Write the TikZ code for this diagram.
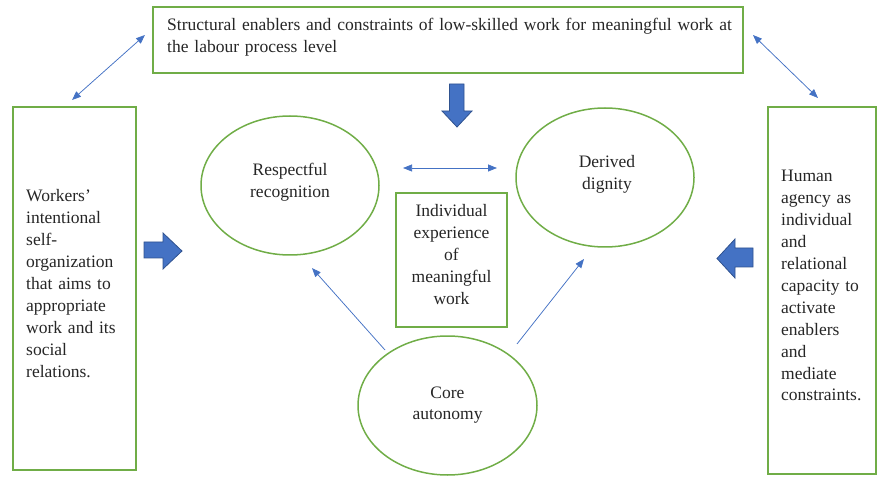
\documentclass[tikz,border=0pt]{standalone}
\usepackage{fontspec}
\setmainfont{Liberation Serif}
\usetikzlibrary{arrows.meta,shapes.geometric}
\definecolor{gr}{HTML}{70AD47}
\definecolor{bl}{HTML}{4472C4}
\definecolor{bld}{HTML}{2F528F}
\definecolor{tx}{HTML}{262626}
\begin{document}
\begin{tikzpicture}[x=1pt,y=-1pt,
  gbox/.style={draw=gr,line width=1.5pt,inner sep=0pt},
  gell/.style={draw=gr,line width=1.5pt,ellipse,inner sep=0pt},
  txt/.style={inner sep=0pt,text=tx,font=\fontsize{17.5}{21.9}\selectfont},
  conn/.style={draw=bl,line width=0.75pt,{Triangle[length=9pt,width=7pt]}-{Triangle[length=9pt,width=7pt]}},
  conn1/.style={draw=bl,line width=0.75pt,-{Triangle[length=9pt,width=7pt]}},
  blk/.style={fill=bl,draw=bld,line width=0.8pt,line join=miter}]
\useasboundingbox (0,0) rectangle (878,478);
% boxes
\node[gbox,minimum width=590pt,minimum height=66pt] (top) at (448,40) {};
\node[gbox,minimum width=123pt,minimum height=363pt] (left) at (74.5,288.5) {};
\node[gbox,minimum width=108pt,minimum height=367pt] (right) at (822,290.5) {};
\node[gbox,minimum width=111pt,minimum height=134pt] (mid) at (451.5,260) {};
\node[gell,minimum width=178pt,minimum height=139pt] (resp) at (290,185.5) {};
\node[gell,minimum width=178pt,minimum height=139pt] (der) at (605,177.5) {};
\node[gell,minimum width=179pt,minimum height=139pt] (core) at (447.5,405.5) {};
% texts
\node[txt,anchor=base west,text width=580pt,align=left] (toptxt) at (167,31)
  {Structural enablers and constraints of low-skilled work for meaningful work at\\the labour process level};
\node[txt,anchor=base west,text width=115pt,align=left] (lefttxt) at (26,202)
  {Workers’\\intentional\\self-\\organization\\that aims to\\appropriate\\work and its\\social\\relations.};
\node[txt,anchor=base west,text width=100pt,align=left] (righttxt) at (781,182)
  {Human\\agency as\\individual\\and\\relational\\capacity to\\activate\\enablers\\and\\mediate\\constraints.};
\node[txt,anchor=base,text width=110pt,align=center] (midtxt) at (451.5,217)
  {Individual\\experience\\of\\meaningful\\work};
\node[txt,anchor=base,text width=150pt,align=center] (resptxt) at (290,176)
  {Respectful\\recognition};
\node[txt,anchor=base,text width=150pt,align=center] (dertxt) at (607,168)
  {Derived\\dignity};
\node[txt,anchor=base,text width=150pt,align=center] (coretxt) at (447.5,398)
  {Core\\autonomy};
% connector end points
\coordinate (tl) at (145,35);
\coordinate (lt) at (72,100);
\coordinate (tr) at (753,35);
\coordinate (rt) at (818,98);
\coordinate (rd1) at (403,168);
\coordinate (rd2) at (497,168);
\coordinate (c1) at (385,350);
\coordinate (r1) at (312,268);
\coordinate (c2) at (517,344);
\coordinate (d2) at (584,259);
\draw[conn] (tl) -- (lt);
\draw[conn] (tr) -- (rt);
\draw[conn] (rd1) -- (rd2);
\draw[conn1] (c1) -- (r1);
\draw[conn1] (c2) -- (d2);
% block arrows
\draw[blk] (449.5,84) -- (464,84) -- (464,111) -- (472,111) -- (457,127) -- (442,111) -- (449.5,111) -- cycle;
\draw[blk] (144,242) -- (163,242) -- (163,233) -- (182,251) -- (163,269) -- (163,258) -- (144,258) -- cycle;
\draw[blk] (753,248) -- (735,248) -- (735,239) -- (717,258.5) -- (735,278) -- (735,267) -- (753,267) -- cycle;
\end{tikzpicture}
\end{document}
